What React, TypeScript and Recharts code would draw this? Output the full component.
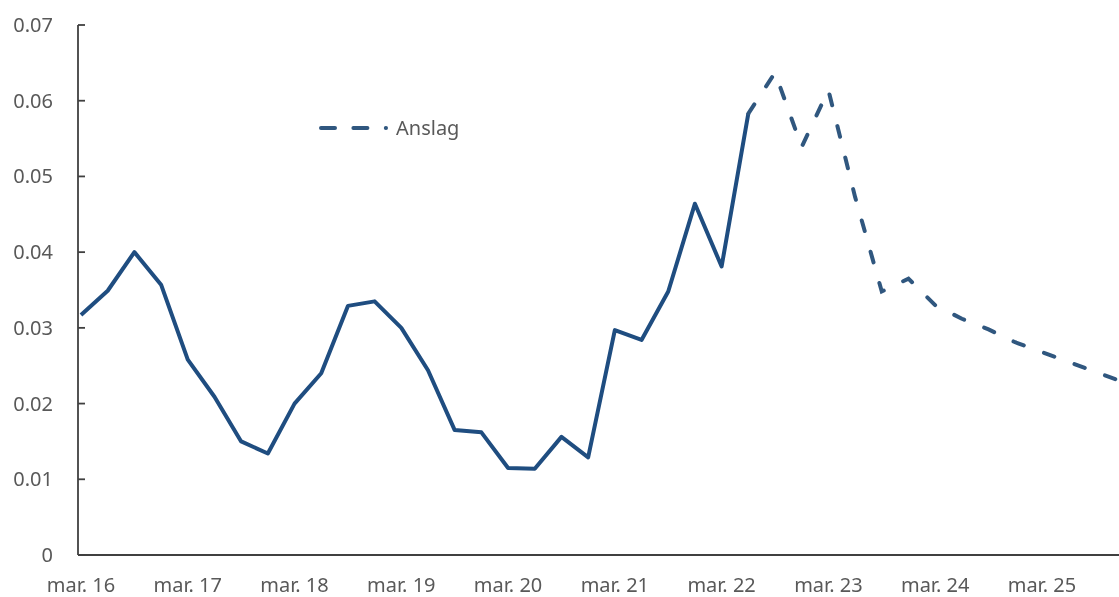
import React from 'react';
import { LineChart, Line, XAxis, YAxis, Legend } from 'recharts';

// kvartaler fra mar. 16 til des. 25
const maaneder = ['mar.', 'jun.', 'sep.', 'des.'];
const aar = ['16', '17', '18', '19', '20', '21', '22', '23', '24', '25'];
const kvartaler = aar.flatMap((a) => maaneder.map((m) => `${m} ${a}`));

// faktiske tall, mar. 16 - jun. 22
const faktisk = [
  0.0317, 0.0349, 0.04, 0.0357, 0.0258, 0.0209, 0.015, 0.0134, 0.02, 0.024,
  0.0329, 0.0335, 0.03, 0.0244, 0.0165, 0.0162, 0.0115, 0.0114, 0.0156, 0.0129,
  0.0297, 0.0284, 0.0348, 0.0464, 0.0381, 0.0583,
];

// anslag, jun. 22 - des. 25 (første punkt felles med faktisk)
const anslag = [
  0.0583, 0.0637, 0.0539, 0.0614, 0.0473, 0.0348, 0.0365, 0.033, 0.0312,
  0.0298, 0.0281, 0.0268, 0.0255, 0.0242, 0.0229,
];

const yTicks = [0, 0.01, 0.02, 0.03, 0.04, 0.05, 0.06, 0.07];

const start = faktisk.length - 1;
const data = kvartaler.map((navn, i) => ({
  navn,
  faktisk: i < faktisk.length ? faktisk[i] : null,
  anslag: i >= start ? anslag[i - start] : null,
}));

const tekstFarge = '#595959';
const aksefarge = '#404040';
const font = '"Noto Sans", sans-serif';
const bla = '#1F4D80';
const blaStiplet = '#30577F';

const fmt = (v: number) => (v === 0 ? '0' : v.toFixed(2));

const YTick = (props: any) => {
  const { x, y, payload } = props;
  return (
    <g>
      <line x1={x} x2={x + 7} y1={y} y2={y} stroke={aksefarge} strokeWidth={1.8} />
      <text
        x={x - 25}
        y={y}
        dy="0.35em"
        textAnchor="end"
        fill={tekstFarge}
        fontFamily={font}
        fontSize={20}
      >
        {fmt(payload.value)}
      </text>
    </g>
  );
};

const XTick = (props: any) => {
  const { x, y, payload } = props;
  return (
    <text
      x={x}
      y={y + 37}
      textAnchor="middle"
      fill={tekstFarge}
      fontFamily={font}
      fontSize={20}
    >
      {payload.value}
    </text>
  );
};

const renderLegend = (props: any) => {
  const items = (props.payload || []).filter((p: any) => p.dataKey === 'anslag');
  return (
    <div>
      {items.map((item: any) => (
        <div
          key={item.dataKey}
          style={{ display: 'flex', alignItems: 'center', height: 28 }}
        >
          <svg width={77} height={10}>
            <line
              x1={4}
              x2={69}
              y1={5}
              y2={5}
              stroke={item.color}
              strokeWidth={4}
              strokeDasharray="14 18.4"
              strokeLinecap="round"
            />
          </svg>
          <span
            style={{
              marginLeft: 2,
              color: tekstFarge,
              fontFamily: font,
              fontSize: 20,
              lineHeight: '28px',
            }}
          >
            Anslag
          </span>
        </div>
      ))}
    </div>
  );
};

export default function App() {
  // fast plassering, så siden ikke får rullefelt
  return (
    <div style={{ position: 'fixed', left: 0, top: 0, width: 1119, height: 597 }}>
      <LineChart
        width={1119}
        height={597}
        data={data}
        margin={{ top: 25, right: 0, bottom: 0, left: 0 }}
      >
        <XAxis
          dataKey="navn"
          interval={3}
          height={42}
          padding={{ left: 3, right: -3 }}
          tickLine={false}
          tickSize={0}
          tickMargin={0}
          axisLine={{ stroke: aksefarge, strokeWidth: 1.8 }}
          tick={<XTick />}
        />
        <YAxis
          width={78}
          domain={[0, 0.07]}
          ticks={yTicks}
          tickLine={false}
          tickSize={0}
          tickMargin={0}
          axisLine={{ stroke: aksefarge, strokeWidth: 1.8 }}
          tick={<YTick />}
        />
        <Legend
          layout="horizontal"
          verticalAlign="middle"
          align="center"
          wrapperStyle={{ left: 317, top: 114, width: 'auto' }}
          content={renderLegend}
        />
        <Line
          type="linear"
          dataKey="faktisk"
          name="Faktisk"
          stroke={bla}
          strokeWidth={4}
          dot={false}
          activeDot={false}
          legendType="none"
          isAnimationActive={false}
          strokeLinejoin="round"
        />
        <Line
          type="linear"
          dataKey="anslag"
          name="Anslag"
          stroke={blaStiplet}
          strokeWidth={4}
          strokeDasharray="11 21.5"
          strokeLinecap="round"
          dot={false}
          activeDot={false}
          isAnimationActive={false}
        />
      </LineChart>
    </div>
  );
}
